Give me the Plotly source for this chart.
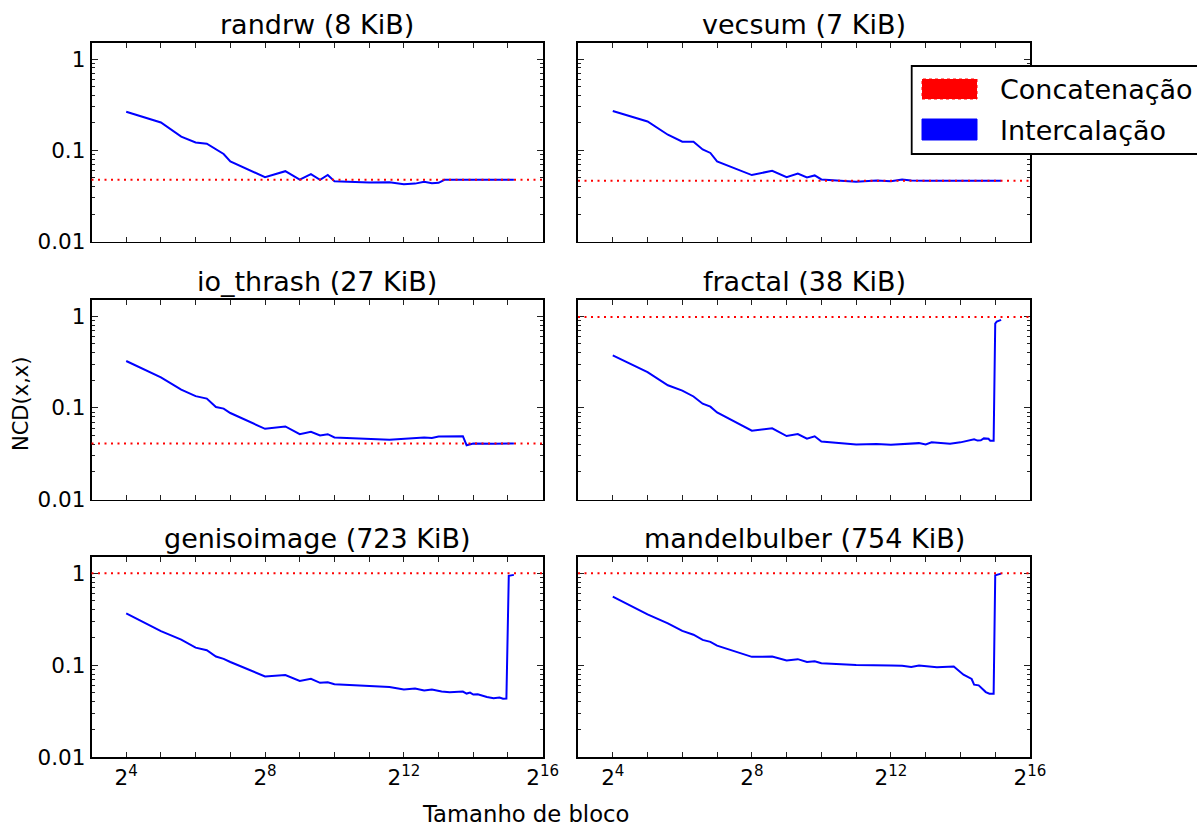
import math
import plotly.graph_objects as go

# ---------------- data ----------------
titles = ["randrw (8 KiB)", "vecsum (7 KiB)", "io_thrash (27 KiB)",
          "fractal (38 KiB)", "genisoimage (723 KiB)", "mandelbulber (754 KiB)"]

randrw_x = [16, 32, 48, 64, 80, 112, 128, 256, 384, 512, 640, 768, 896, 1024,
            2048, 3072, 4096, 5120, 6144, 7168, 8192, 9216, 16384, 36864]
randrw_y = [0.265, 0.202, 0.141, 0.122, 0.118, 0.091, 0.0753, 0.0507, 0.059, 0.0477,
            0.0547, 0.0474, 0.0537, 0.0458, 0.0443, 0.0446, 0.0424, 0.0431, 0.0452,
            0.0435, 0.044, 0.0474, 0.0474, 0.0474]
randrw_concat = 0.0474

vecsum_x = [16, 32, 48, 64, 80, 96, 112, 128, 256, 384, 512, 640, 768, 896, 1024,
            2048, 3072, 4096, 5120, 6144, 8192, 16384, 36864]
vecsum_y = [0.269, 0.207, 0.148, 0.124, 0.124, 0.102, 0.0935, 0.0757, 0.0535, 0.0597,
            0.0508, 0.0557, 0.0505, 0.053, 0.0479, 0.0451, 0.0466, 0.0457, 0.0479,
            0.0467, 0.0463, 0.0463, 0.0463]
vecsum_concat = 0.0463

io_thrash_x = [16, 32, 48, 64, 80, 96, 112, 128, 256, 384, 512, 640, 768, 896, 1024,
               2048, 3072, 6144, 7168, 8192, 11264, 13312, 14336, 16384, 24576, 28672, 36864]
io_thrash_y = [0.324, 0.215, 0.158, 0.134, 0.126, 0.102, 0.098, 0.0878, 0.059, 0.0627,
               0.0516, 0.0548, 0.0499, 0.0516, 0.0475, 0.0463, 0.0448, 0.0475, 0.047,
               0.0487, 0.0495, 0.049, 0.0391, 0.0408, 0.0405, 0.0408, 0.0408]
io_thrash_concat = 0.0408

fractal_x = [16, 32, 48, 64, 80, 96, 112, 128, 256, 384, 512, 640, 768, 896, 1024,
             2048, 3072, 4096, 7168, 8192, 9216, 13312, 16384, 21504, 23040, 24576,
             26112, 28672, 29696, 31744, 32768, 33792, 36864]
fractal_y = [0.373, 0.245, 0.176, 0.154, 0.133, 0.111, 0.103, 0.0889, 0.0564, 0.0598,
             0.0492, 0.0518, 0.046, 0.0489, 0.043, 0.0399, 0.0402, 0.0395, 0.0412,
             0.0399, 0.042, 0.0406, 0.042, 0.0453, 0.0439, 0.0443, 0.0464, 0.046,
             0.0436, 0.0436, 0.83, 0.874, 0.911]
fractal_concat = 0.98

genisoimage_x = [16, 32, 48, 64, 80, 96, 112, 128, 256, 384, 512, 640, 768, 896, 1024,
                 2048, 3072, 4096, 5120, 6144, 7168, 8704, 10240, 13312, 14336, 15360,
                 16384, 17920, 21504, 24576, 27648, 29696, 31744, 33280, 34816, 36864]
genisoimage_y = [0.365, 0.234, 0.189, 0.155, 0.145, 0.124, 0.117, 0.108, 0.0752, 0.0778,
                 0.0673, 0.0708, 0.0641, 0.0651, 0.0619, 0.0589, 0.0577, 0.0542, 0.0555,
                 0.0528, 0.0542, 0.0515, 0.0506, 0.0515, 0.049, 0.0502, 0.0478, 0.0482,
                 0.045, 0.0437, 0.0444, 0.043, 0.0433, 0.935, 0.95, 0.959]
genisoimage_concat = 1.0

mandelbulber_x = [16, 32, 48, 64, 80, 96, 112, 128, 256, 384, 512, 640, 768, 896, 1024,
                  2048, 4096, 5120, 6144, 7168, 10240, 14336, 17408, 20480, 21504, 23552,
                  27136, 29184, 31744, 32768, 36864]
mandelbulber_y = [0.556, 0.356, 0.284, 0.236, 0.214, 0.188, 0.179, 0.163, 0.123, 0.124,
                  0.112, 0.116, 0.108, 0.110, 0.105, 0.1005, 0.099, 0.0981, 0.0955, 0.099,
                  0.0947, 0.0963, 0.0787, 0.0706, 0.0612, 0.0602, 0.0509, 0.0489, 0.0489,
                  0.95, 0.99]
mandelbulber_concat = 1.0

series_x = [randrw_x, vecsum_x, io_thrash_x, fractal_x, genisoimage_x, mandelbulber_x]
series_y = [randrw_y, vecsum_y, io_thrash_y, fractal_y, genisoimage_y, mandelbulber_y]
concat = [randrw_concat, vecsum_concat, io_thrash_concat, fractal_concat,
          genisoimage_concat, mandelbulber_concat]

x_major = [2 ** 4, 2 ** 8, 2 ** 12, 2 ** 16]
x_major_text = ["2<sup>4</sup>", "2<sup>8</sup>", "2<sup>12</sup>", "2<sup>16</sup>"]
x_minor = [2 ** k for k in range(4, 16)]
x_lim = (2 ** 3, 2 ** 16)
y_lim = (0.01, 1.5)
y_major = [0.01, 0.1, 1]
y_major_text = ["0.01", "0.1", "1"]
y_minor = [m * d for d in (0.01, 0.1) for m in range(2, 10)]

legend_labels = ["Concatenação", "Intercalação"]

# ---------------- layout geometry ----------------
W, H = 1197, 827
FONT = "DejaVu Sans"


def px(x):
    return x / W


def py(y):
    return 1 - y / H


col_px = [(91.5, 542.7), (578, 1030)]
row_px = [(43, 241.5), (300, 499.5), (557, 757)]

fig = go.Figure()
layout = dict(
    width=W, height=H, margin=dict(l=0, r=0, t=0, b=0),
    paper_bgcolor="white", plot_bgcolor="white", showlegend=False,
    font=dict(family=FONT, color="black"),
)
annotations = []
for i in range(6):
    r, c = divmod(i, 2)
    n = "" if i == 0 else str(i + 1)
    xd = [px(col_px[c][0]), px(col_px[c][1])]
    yd = [py(row_px[r][1]), py(row_px[r][0])]
    layout["xaxis" + n] = dict(
        type="log", domain=xd, anchor="y" + n,
        range=[math.log10(x_lim[0]), math.log10(x_lim[1])],
        tickmode="array", tickvals=x_major, ticktext=x_major_text,
        showticklabels=(r == 2), automargin=False,
        ticks="inside", ticklen=5, tickwidth=1, tickcolor="#222",
        minor=dict(tickmode="array", tickvals=x_minor, ticks="inside",
                   ticklen=5, tickwidth=1, tickcolor="#222", showgrid=False),
        showline=True, linecolor="black", linewidth=1.8, mirror="allticks",
        showgrid=False, zeroline=False,
        tickfont=dict(size=21.5, family=FONT, color="black"),
    )
    layout["yaxis" + n] = dict(
        type="log", domain=yd, anchor="x" + n,
        range=[math.log10(y_lim[0]), math.log10(y_lim[1])],
        tickmode="array", tickvals=y_major, ticktext=y_major_text,
        showticklabels=(c == 0), automargin=False,
        ticks="inside", ticklen=6, tickwidth=1, tickcolor="#222",
        minor=dict(tickmode="array", tickvals=y_minor, ticks="inside",
                   ticklen=3, tickwidth=1, tickcolor="#222", showgrid=False),
        showline=True, linecolor="black", linewidth=1.8, mirror="allticks",
        showgrid=False, zeroline=False,
        tickfont=dict(size=21.5, family=FONT, color="black"),
    )
    fig.add_trace(go.Scatter(
        x=series_x[i], y=series_y[i], mode="lines",
        line=dict(color="#0000ff", width=2),
        xaxis="x" + n, yaxis="y" + n, name=legend_labels[1],
    ))
    annotations.append(dict(
        text=titles[i], x=(xd[0] + xd[1]) / 2, y=yd[1], xref="paper", yref="paper",
        xanchor="center", yanchor="bottom", yshift=1, showarrow=False,
        font=dict(size=27, family=FONT, color="black"),
    ))

fig.update_layout(**layout)

for i in range(6):
    n = "" if i == 0 else str(i + 1)
    fig.add_shape(type="line", xref="x" + n + " domain", yref="y" + n,
                  x0=0, x1=1, y0=concat[i], y1=concat[i],
                  line=dict(color="#ff0000", width=2, dash="2px,4.5px"), layer="above")

# axis labels
annotations.append(dict(text="Tamanho de bloco", x=px(525), y=py(814),
                        xref="paper", yref="paper", xanchor="center", yanchor="middle",
                        showarrow=False, font=dict(size=22.7, family=FONT, color="black")))
annotations.append(dict(text="NCD(x,x)", x=px(21), y=py(404), textangle=-90,
                        xref="paper", yref="paper", xanchor="center", yanchor="middle",
                        showarrow=False, font=dict(size=21, family=FONT, color="black")))

# manual legend (box with patches)
fig.add_shape(type="rect", xref="paper", yref="paper",
              x0=px(911.7), x1=1.05, y0=py(154), y1=py(66),
              fillcolor="white", line=dict(color="black", width=1.8), layer="above")
fig.add_shape(type="rect", xref="paper", yref="paper",
              x0=px(922), x1=px(977), y0=py(99), y1=py(79),
              fillcolor="#ff0000", line=dict(color="#ff0000", width=1, dash="dot"),
              layer="above")
fig.add_shape(type="rect", xref="paper", yref="paper",
              x0=px(922), x1=px(977), y0=py(140), y1=py(119),
              fillcolor="#0000ff", line=dict(color="#0000ff", width=1), layer="above")
for lbl, yc in zip(legend_labels, (89, 130)):
    annotations.append(dict(text=lbl, x=px(998), y=py(yc), xref="paper", yref="paper",
                            xanchor="left", yanchor="middle", showarrow=False,
                            font=dict(size=27, family=FONT, color="black")))

fig.update_layout(annotations=annotations)
fig.write_html(
    "out.html",
    config={"displayModeBar": False, "staticPlot": True},
    post_script="document.body.style.margin='0px';document.body.style.padding='0px';"
                "document.body.style.overflow='hidden';"
                "document.documentElement.style.overflow='hidden';",
)
